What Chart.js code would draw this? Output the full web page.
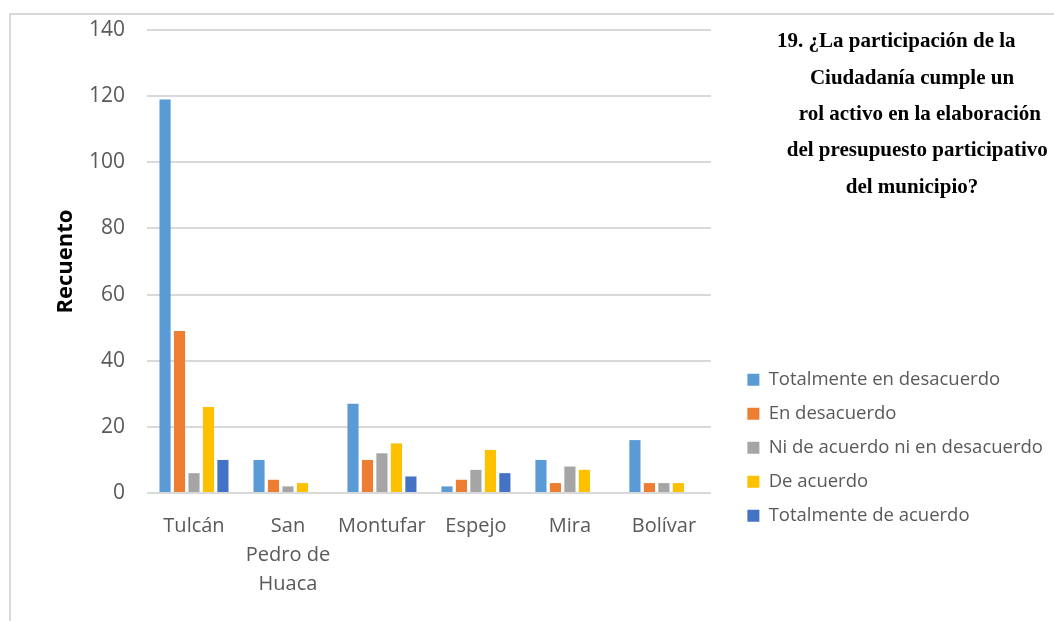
<!DOCTYPE html>
<html lang="es">
<head>
<meta charset="utf-8">
<title>Recuento por cantón</title>
<script src="https://cdn.jsdelivr.net/npm/chart.js@4.4.1/dist/chart.umd.min.js"></script>
<style>
  html, body { margin: 0; padding: 0; background: #fff; }
  .lienzo { position: relative; width: 1054px; height: 621px; overflow: hidden; }
  .marco { position: absolute; left: 9px; top: 13px; width: 1100px; height: 700px; border: 2px solid #d9d9d9; box-sizing: border-box; }
  #graficoRecuento { position: absolute; left: 0; top: 0; }
</style>
</head>
<body>
<div class="lienzo">
  <div class="marco"></div>
  <canvas id="graficoRecuento" width="1054" height="621"></canvas>
</div>
<script>
// Datos (recuento de respuestas por cantón)
const cantones = ['Tulcán', ['San', 'Pedro de', 'Huaca'], 'Montufar', 'Espejo', 'Mira', 'Bolívar'];
const totalmenteDesacuerdo = [119, 10, 27, 2, 10, 16];
const enDesacuerdo = [49, 4, 10, 4, 3, 3];
const niAcuerdoNiDesacuerdo = [6, 2, 12, 7, 8, 3];
const deAcuerdo = [26, 3, 15, 13, 7, 3];
const totalmenteAcuerdo = [10, null, 5, 6, null, null];
const ticksRecuento = [0, 20, 40, 60, 80, 100, 120, 140];

// los espacios imitan la sangría del texto original
const tituloLineas = [
  '19. ¿La participación de la      ',
  'Ciudadanía cumple un',
  '   rol activo en la elaboración',
  '  del presupuesto participativo',
  'del municipio?'
];

(function(){
  Chart.defaults.font.family = '"Open Sans", "Liberation Sans", sans-serif';
  Chart.defaults.color = '#595959';

  // mueve la leyenda hacia abajo y la separa del área de trazado
  const ajusteLeyenda = {
    id: 'ajusteLeyenda',
    afterLayout(chart) {
      const leyenda = chart.legend;
      if (!leyenda) return;
      const dx = 21;
      const nuevoTop = 355;
      leyenda.left += dx;
      leyenda.right += dx;
      leyenda.height = leyenda.bottom - nuevoTop;
      leyenda.top = nuevoTop;
    }
  };

  // pregunta a la derecha, en negrita con letra serif
  const tituloPregunta = {
    id: 'tituloPregunta',
    afterDraw(chart) {
      const ctx = chart.ctx;
      ctx.save();
      ctx.font = 'bold 21px "Liberation Serif", "Times New Roman", serif';
      ctx.fillStyle = '#000';
      ctx.textAlign = 'center';
      ctx.textBaseline = 'middle';
      tituloLineas.forEach(function (linea, i) {
        ctx.fillText(linea, 912, 42 + i * 36.3);
      });
      ctx.restore();
    }
  };

  const serie = (label, data, color) => ({ label, data, backgroundColor: color, borderWidth: 0 });

  new Chart(document.getElementById('graficoRecuento'), {
    type: 'bar',
    data: {
      labels: cantones,
      datasets: [
        serie('Totalmente en desacuerdo', totalmenteDesacuerdo, '#5b9bd5'),
        serie('En desacuerdo', enDesacuerdo, '#ed7d31'),
        serie('Ni de acuerdo ni en desacuerdo', niAcuerdoNiDesacuerdo, '#a5a5a5'),
        serie('De acuerdo', deAcuerdo, '#ffc000'),
        serie('Totalmente de acuerdo', totalmenteAcuerdo, '#4472c4')
      ]
    },
    options: {
      responsive: false,
      animation: false,
      categoryPercentage: 0.77,
      barPercentage: 0.77,
      layout: { padding: { left: 53, top: 30, right: 22, bottom: 3 } },
      plugins: {
        legend: {
          position: 'right',
          align: 'start',
          maxWidth: 360,
          labels: {
            boxWidth: 12,
            boxHeight: 12,
            padding: 15.5,
            color: '#595959',
            font: { size: 18.5 }
          }
        },
        tooltip: { enabled: false }
      },
      scales: {
        x: {
          grid: { display: false, drawTicks: false },
          border: { display: false },
          ticks: { font: { size: 20, lineHeight: 1.45 }, padding: 19, maxRotation: 0, autoSkip: false }
        },
        y: {
          min: ticksRecuento[0],
          max: ticksRecuento[ticksRecuento.length - 1],
          afterBuildTicks: function (escala) {
            escala.ticks = ticksRecuento.map(function (v) { return { value: v }; });
          },
          afterFit: function (escala) {
            escala.width = 94;
            escala.paddingTop = 0;
            escala.paddingBottom = 0;
          },
          ticks: { padding: 22, font: { size: 21 } },
          grid: { color: '#d9d9d9', lineWidth: 2, drawTicks: false },
          border: { display: false },
          title: {
            display: true,
            text: 'Recuento',
            color: '#000',
            font: { size: 22, weight: 'bold' },
            padding: { top: 0, bottom: 14 }
          }
        }
      }
    },
    plugins: [ajusteLeyenda, tituloPregunta]
  });
})();
</script>
</body>
</html>
